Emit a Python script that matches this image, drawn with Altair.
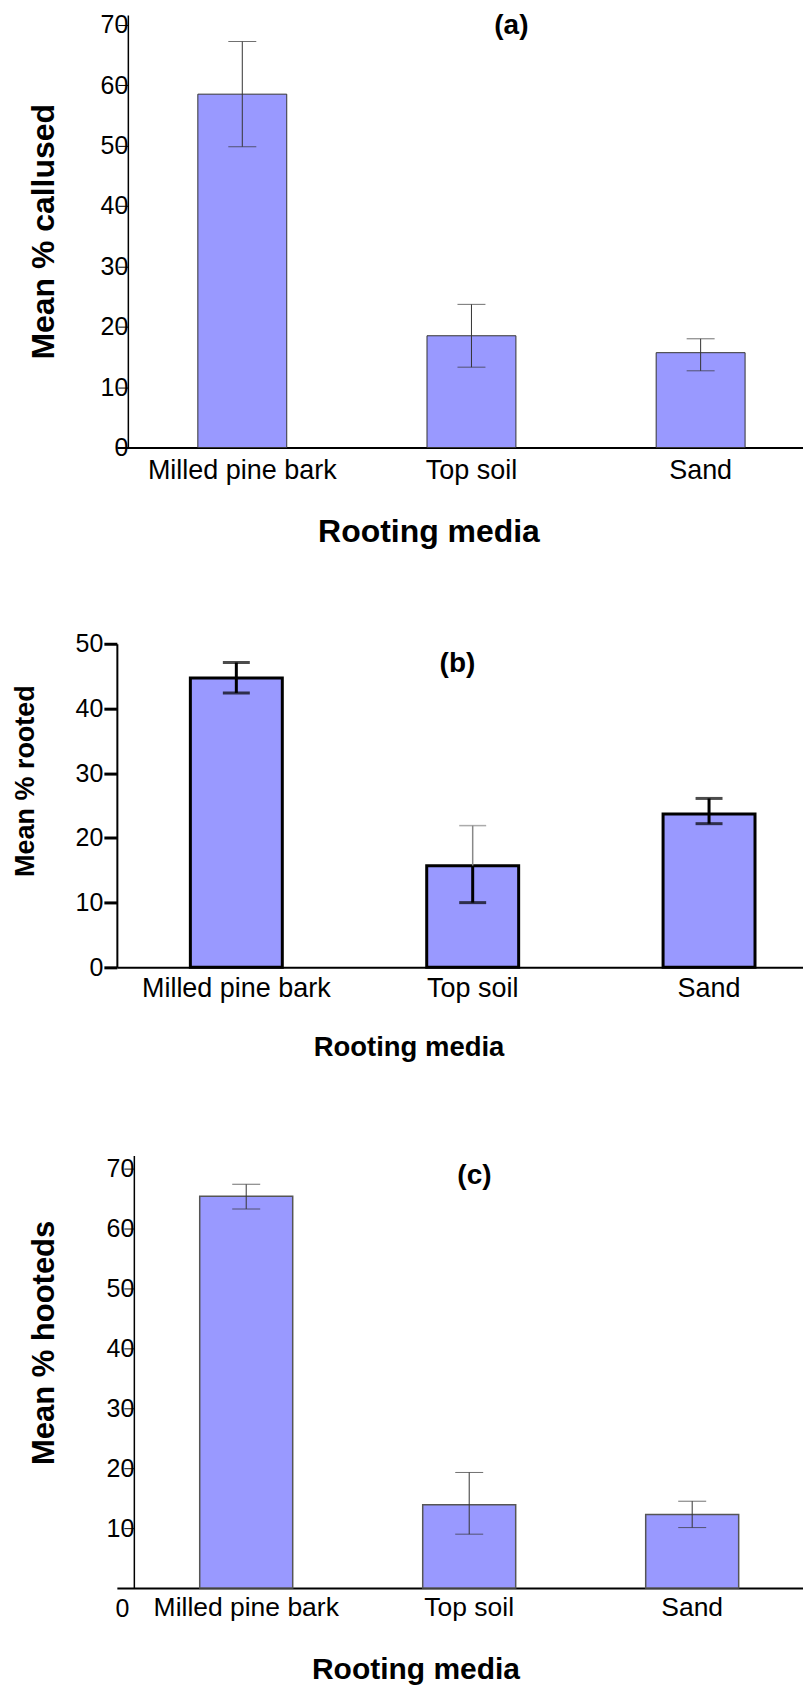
import altair as alt
import pandas as pd

media = ["Milled pine bark", "Top soil", "Sand"]

callused_mean = [58.5, 18.5, 15.7]
callused_low = [49.8, 13.3, 12.7]
callused_high = [67.2, 23.7, 18.0]

rooted_mean = [44.7, 15.7, 23.7]
rooted_low = [42.4, 10.0, 22.2]
rooted_high = [47.1, 21.9, 26.1]

hooted_mean = [65.4, 13.9, 12.3]
hooted_low = [63.3, 9.0, 10.1]
hooted_high = [67.4, 19.3, 14.5]

ticks_a = [0, 10, 20, 30, 40, 50, 60, 70]
ticks_b = [0, 10, 20, 30, 40, 50]
ticks_c = [10, 20, 30, 40, 50, 60, 70]

panel_labels = ["(a)", "(b)", "(c)"]
y_titles = ["Mean % callused", "Mean % rooted", "Mean % hooteds"]
x_title = "Rooting media"
zero_label = ["0"]

FONT = "Liberation Sans, Arial, Helvetica, sans-serif"
FILL = "#9999ff"
W = 687


def frame(mean, low, high):
    return pd.DataFrame({"media": media, "mean": mean, "low": low, "high": high})


def panel(df, label, ytitle, ydomain, height, yticks, xscale, xaxis, yaxis,
          bar_stroke, bar_sw, err_style, label_pos):
    x = alt.X("media:N", sort=media, title=x_title, scale=xscale, axis=xaxis)

    def y(field):
        return alt.Y(field, title=ytitle,
                     scale=alt.Scale(domain=ydomain, nice=False, zero=True),
                     axis=yaxis)

    base = alt.Chart(df)
    bars = base.mark_bar(fill=FILL, stroke=bar_stroke, strokeWidth=bar_sw).encode(
        x=x, y=y("mean:Q"))
    layers = [bars]
    if err_style == "thin":
        layers.append(base.mark_rule(color="#333333", strokeWidth=1).encode(
            x=x, y=y("low:Q"), y2="high:Q"))
        layers.append(base.mark_tick(size=28, thickness=1, color="#333333").encode(
            x=x, y=y("high:Q")))
        layers.append(base.mark_tick(size=28, thickness=1, color="#333333").encode(
            x=x, y=y("low:Q")))
    else:
        thin = alt.datum.media == "Top soil"
        layers.append(base.mark_rule().encode(
            x=x, y=y("mean:Q"), y2="high:Q",
            color=alt.condition(thin, alt.value("#888888"), alt.value("black")),
            strokeWidth=alt.condition(thin, alt.value(1.5), alt.value(3))))
        layers.append(base.mark_rule(color="black", strokeWidth=3).encode(
            x=x, y=y("low:Q"), y2="mean:Q"))
        layers.append(base.transform_filter(~thin).mark_tick(
            size=27, thickness=3, color="black").encode(x=x, y=y("high:Q")))
        layers.append(base.transform_filter(thin).mark_tick(
            size=27, thickness=1.5, color="#888888").encode(x=x, y=y("high:Q")))
        layers.append(base.mark_tick(size=27, thickness=3, color="black").encode(
            x=x, y=y("low:Q")))
    lab = alt.Chart(pd.DataFrame({"label": [label]})).mark_text(
        font=FONT, fontSize=28, fontWeight="bold", color="black",
        align="center", baseline="middle").encode(
        x=alt.value(label_pos[0]), y=alt.value(label_pos[1]), text="label:N")
    layers.append(lab)
    return alt.layer(*layers).properties(width=W, height=height)


# Panel (a)
xa_axis = alt.Axis(labelAngle=0, ticks=False, labelPadding=10, labelFontSize=27,
                   labelLimit=0, domainWidth=2, titlePadding=33, titleX=312,
                   titleFontSize=32)
ya_axis = alt.Axis(values=ticks_a, grid=False, offset=-11, tickSize=10, tickWidth=1,
                   labelPadding=-10, labelFontSize=25, domainWidth=1.5,
                   titleFontSize=32, titleX=-74, titleBaseline="alphabetic")
pa = panel(frame(callused_mean, callused_low, callused_high), panel_labels[0],
           y_titles[0], [0, 71.6], 433, ticks_a,
           alt.Scale(paddingInner=0.612, paddingOuter=0.303, align=0.583),
           xa_axis, ya_axis, "#333333", 1, "thin", (395, 11))

# Panel (b)
xb_axis = alt.Axis(labelAngle=0, ticks=False, labelPadding=8, labelFontSize=27,
                   labelLimit=0, domainWidth=2, titlePadding=32, titleX=292,
                   titleFontSize=27.5)
yb_axis = alt.Axis(values=ticks_b, grid=False, tickSize=13, tickWidth=3,
                   labelPadding=1, labelFontSize=25, domainWidth=2,
                   titleFontSize=27, titleX=-83, titleY=137, titleBaseline="alphabetic")
pb = panel(frame(rooted_mean, rooted_low, rooted_high), panel_labels[1],
           y_titles[1], [0, 50], 324, ticks_b,
           alt.Scale(paddingInner=0.611, paddingOuter=0.257, align=0.605),
           xb_axis, yb_axis, "black", 3, "thick", (341, 20))

# Panel (c)
xc_axis = alt.Axis(labelAngle=0, ticks=False, labelPadding=6.5, labelFontSize=26.5,
                   labelLimit=0, domainWidth=2, titlePadding=34, titleX=299,
                   titleFontSize=30)
yc_axis = alt.Axis(values=ticks_c, grid=False, offset=-17, tickSize=10, tickWidth=1,
                   labelPadding=-10, labelFontSize=25, domainWidth=1.5,
                   titleFontSize=31, titleX=-80, titleY=187, titleBaseline="alphabetic")
pc_main = panel(frame(hooted_mean, hooted_low, hooted_high), panel_labels[2],
                y_titles[2], [0, 72.2], 433, ticks_c,
                alt.Scale(paddingInner=0.583, paddingOuter=0.330, align=0.563),
                xc_axis, yc_axis, "#555555", 1.5, "thin", (358, 20))
zero_txt = alt.Chart(pd.DataFrame({"t": zero_label})).mark_text(
    font=FONT, fontSize=25, color="black", align="center", baseline="middle",
    dy=21).encode(x=alt.value(5.5), y=alt.datum(0), text="t:N")
pc = alt.layer(pc_main, zero_txt).properties(
    title=alt.TitleParams(text=" ", fontSize=10, offset=0))

chart = alt.vconcat(pa, pb, pc, spacing=84.5).properties(
    padding={"left": 3, "top": 3, "right": 0, "bottom": 0}
).configure_axis(
    labelFont=FONT, titleFont=FONT, labelColor="black", titleColor="black",
    domainColor="black", tickColor="black", titleFontWeight="bold"
).configure_view(strokeWidth=0)

chart.save("out.html", embed_options={"renderer": "svg", "actions": False})
